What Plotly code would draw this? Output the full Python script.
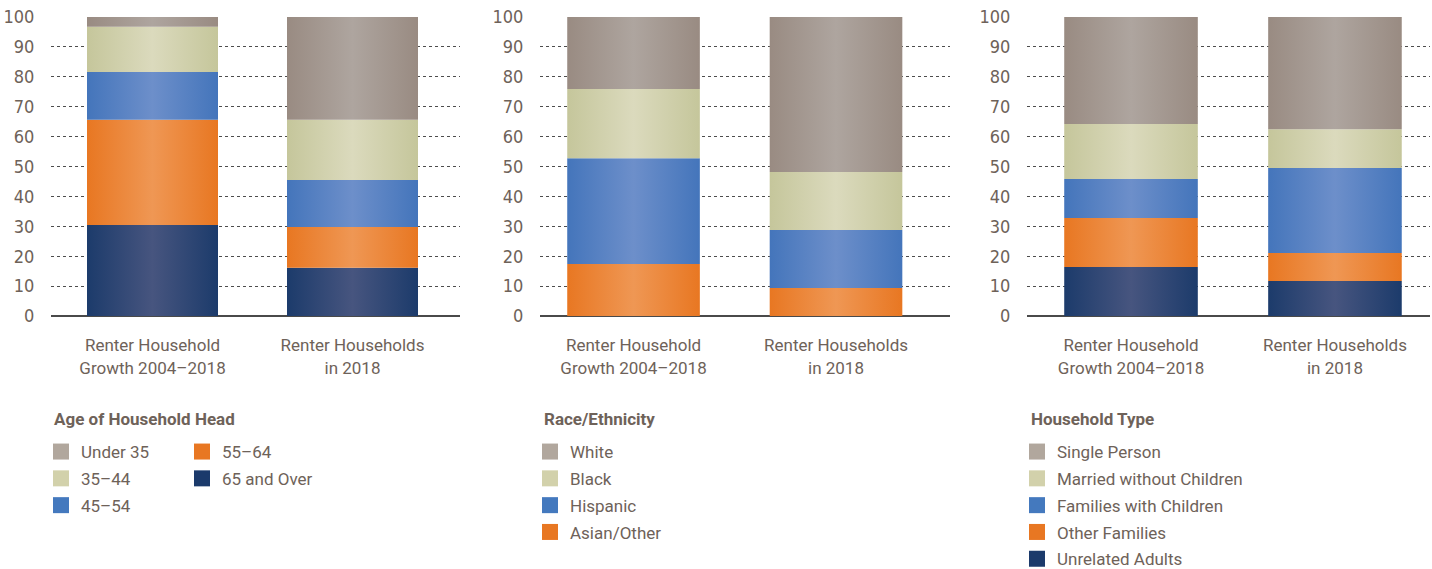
import plotly.graph_objects as go

# ---------------- data ----------------
categories = ["Renter Household<br>Growth 2004–2018", "Renter Households<br>in 2018"]
y_ticks = [0, 10, 20, 30, 40, 50, 60, 70, 80, 90, 100]

# Panel 1: Age of Household Head (bottom -> top)
age_65_over = [30.4, 16.1]
age_55_64 = [35.2, 13.7]
age_45_54 = [16.0, 15.7]
age_35_44 = [15.1, 20.1]
age_under_35 = [3.3, 34.4]

# Panel 2: Race/Ethnicity (bottom -> top)
race_asian_other = [17.4, 9.4]
race_hispanic = [35.4, 19.4]
race_black = [23.1, 19.4]
race_white = [24.1, 51.8]

# Panel 3: Household Type (bottom -> top)
type_unrelated = [16.4, 11.7]
type_other_families = [16.4, 9.4]
type_families_children = [13.0, 28.4]
type_married_no_children = [18.4, 13.0]
type_single = [35.8, 37.5]

legend_titles = ["Age of Household Head", "Race/Ethnicity", "Household Type"]

# ---------------- styles ----------------
TEXT = "#6e6259"
FONT = "Roboto, 'Liberation Sans', sans-serif"
NARROW = "'Liberation Sans Narrow', 'DejaVu Sans Condensed', sans-serif"

PAL = {  # (edge, center, legend swatch)
    "gray": ("#998b82", "#aea59f", "#b1a79d"),
    "green": ("#c5c69b", "#dbdabd", "#d2d1ab"),
    "blue": ("#4475bb", "#6d8fca", "#4479be"),
    "orange": ("#e87722", "#ef9754", "#e87722"),
    "navy": ("#1c3b6b", "#47557f", "#1b3a6b"),
}

BAR_W = 0.655

panels = [
    dict(
        x="x", y="y",
        series=[("65 and Over", age_65_over, "navy"),
                ("55–64", age_55_64, "orange"),
                ("45–54", age_45_54, "blue"),
                ("35–44", age_35_44, "green"),
                ("Under 35", age_under_35, "gray")],
        legends=[("legend", ["Under 35", "35–44", "45–54"]),
                 ("legend4", ["55–64", "65 and Over"])],
    ),
    dict(
        x="x2", y="y2",
        series=[("Asian/Other", race_asian_other, "orange"),
                ("Hispanic", race_hispanic, "blue"),
                ("Black", race_black, "green"),
                ("White", race_white, "gray")],
        legends=[("legend2", ["White", "Black", "Hispanic", "Asian/Other"])],
    ),
    dict(
        x="x3", y="y3",
        series=[("Unrelated Adults", type_unrelated, "navy"),
                ("Other Families", type_other_families, "orange"),
                ("Families with Children", type_families_children, "blue"),
                ("Married without Children", type_married_no_children, "green"),
                ("Single Person", type_single, "gray")],
        legends=[("legend3", ["Single Person", "Married without Children",
                              "Families with Children", "Other Families",
                              "Unrelated Adults"])],
    ),
]

fig = go.Figure()

for p in panels:
    base = [0.0 for _ in categories]
    for name, vals, key in p["series"]:
        edge, center, _ = PAL[key]
        for i, v in enumerate(vals):
            x0, x1 = i - BAR_W / 2, i + BAR_W / 2
            b, t = base[i], base[i] + v
            fig.add_trace(go.Scatter(
                x=[x0, x1, x1, x0, x0], y=[b, b, t, t, b],
                xaxis=p["x"], yaxis=p["y"],
                mode="lines", line=dict(width=0, color=edge),
                fill="toself",
                fillgradient=dict(type="horizontal",
                                  colorscale=[[0, edge], [0.5, center], [1, edge]]),
                name=name, showlegend=False, hoverinfo="skip",
            ))
            base[i] = t
    lookup = {s[0]: s[2] for s in p["series"]}
    for lg, names in p["legends"]:
        for rank, name in enumerate(names):
            fig.add_trace(go.Scatter(
                x=[None], y=[None], xaxis=p["x"], yaxis=p["y"],
                mode="markers", name=name, legend=lg, legendrank=rank + 1,
                legendgroup=lg + name,
                marker=dict(symbol="square", size=16, color=PAL[lookup[name]][2]),
                showlegend=True,
            ))

# figure fills the page (body margin removed by post_script below)
W, H = 1432, 569


def px(xp):
    return xp / W


def py(yp):
    return 1 - yp / H


ydom = [py(316), py(17)]
xdoms = [(51, 460, [-0.5075, 1.5375]), (540, 950, [-0.462, 1.563]), (1027, 1430, [-0.51, 1.466])]

layout = dict(
    width=W, height=H,
    margin=dict(l=0, r=0, t=0, b=0, autoexpand=False),
    paper_bgcolor="white", plot_bgcolor="white",
    font=dict(family=FONT, color=TEXT, size=17),
    showlegend=True,
)
for k, (a, b, rng) in enumerate(xdoms):
    sfx = "" if k == 0 else str(k + 1)
    layout["xaxis" + sfx] = dict(
        domain=[px(a), min(px(b), 1.0)], range=rng, fixedrange=True, automargin=False,
        tickvals=[0, 1], ticktext=categories,
        showgrid=False, zeroline=False, showline=False,
        ticks="outside", ticklen=14, tickcolor="rgba(0,0,0,0)",
        tickfont=dict(family=FONT, size=17, color=TEXT),
        anchor="y" + sfx,
    )
    layout["yaxis" + sfx] = dict(
        domain=ydom, range=[0, 100], fixedrange=True, automargin=False,
        tickvals=y_ticks, ticklabeloverflow="allow",
        showgrid=True, gridcolor="#4d4d4d", gridwidth=1, griddash="dot",
        zeroline=True, zerolinecolor="#4a4a4a", zerolinewidth=2,
        showline=False,
        ticks="outside", ticklen=12, tickcolor="rgba(0,0,0,0)",
        tickfont=dict(family=NARROW, size=18, color=TEXT),
        anchor="x" + sfx,
    )


def leg(x):
    return dict(
        x=px(x), y=py(434), xanchor="left", yanchor="top",
        orientation="v", traceorder="grouped", tracegroupgap=1.7,
        bgcolor="rgba(0,0,0,0)", borderwidth=0,
        font=dict(family=FONT, size=17, color=TEXT),
        itemclick=False, itemdoubleclick=False,
    )


layout["legend"] = leg(41)
layout["legend4"] = leg(182)
layout["legend2"] = leg(530)
layout["legend3"] = leg(1017)

title_x = [52, 542, 1029]
layout["annotations"] = [
    dict(text="<b>" + t + "</b>", x=px(xx), y=py(419), xref="paper", yref="paper",
         xanchor="left", yanchor="middle", showarrow=False,
         font=dict(family=FONT, size=17, color=TEXT))
    for t, xx in zip(legend_titles, title_x)
]

fig.update_layout(**layout)
fig.write_html(
    "out.html",
    config={"displayModeBar": False},
    post_script="document.body.style.margin='0';document.body.style.overflow='hidden';",
)
